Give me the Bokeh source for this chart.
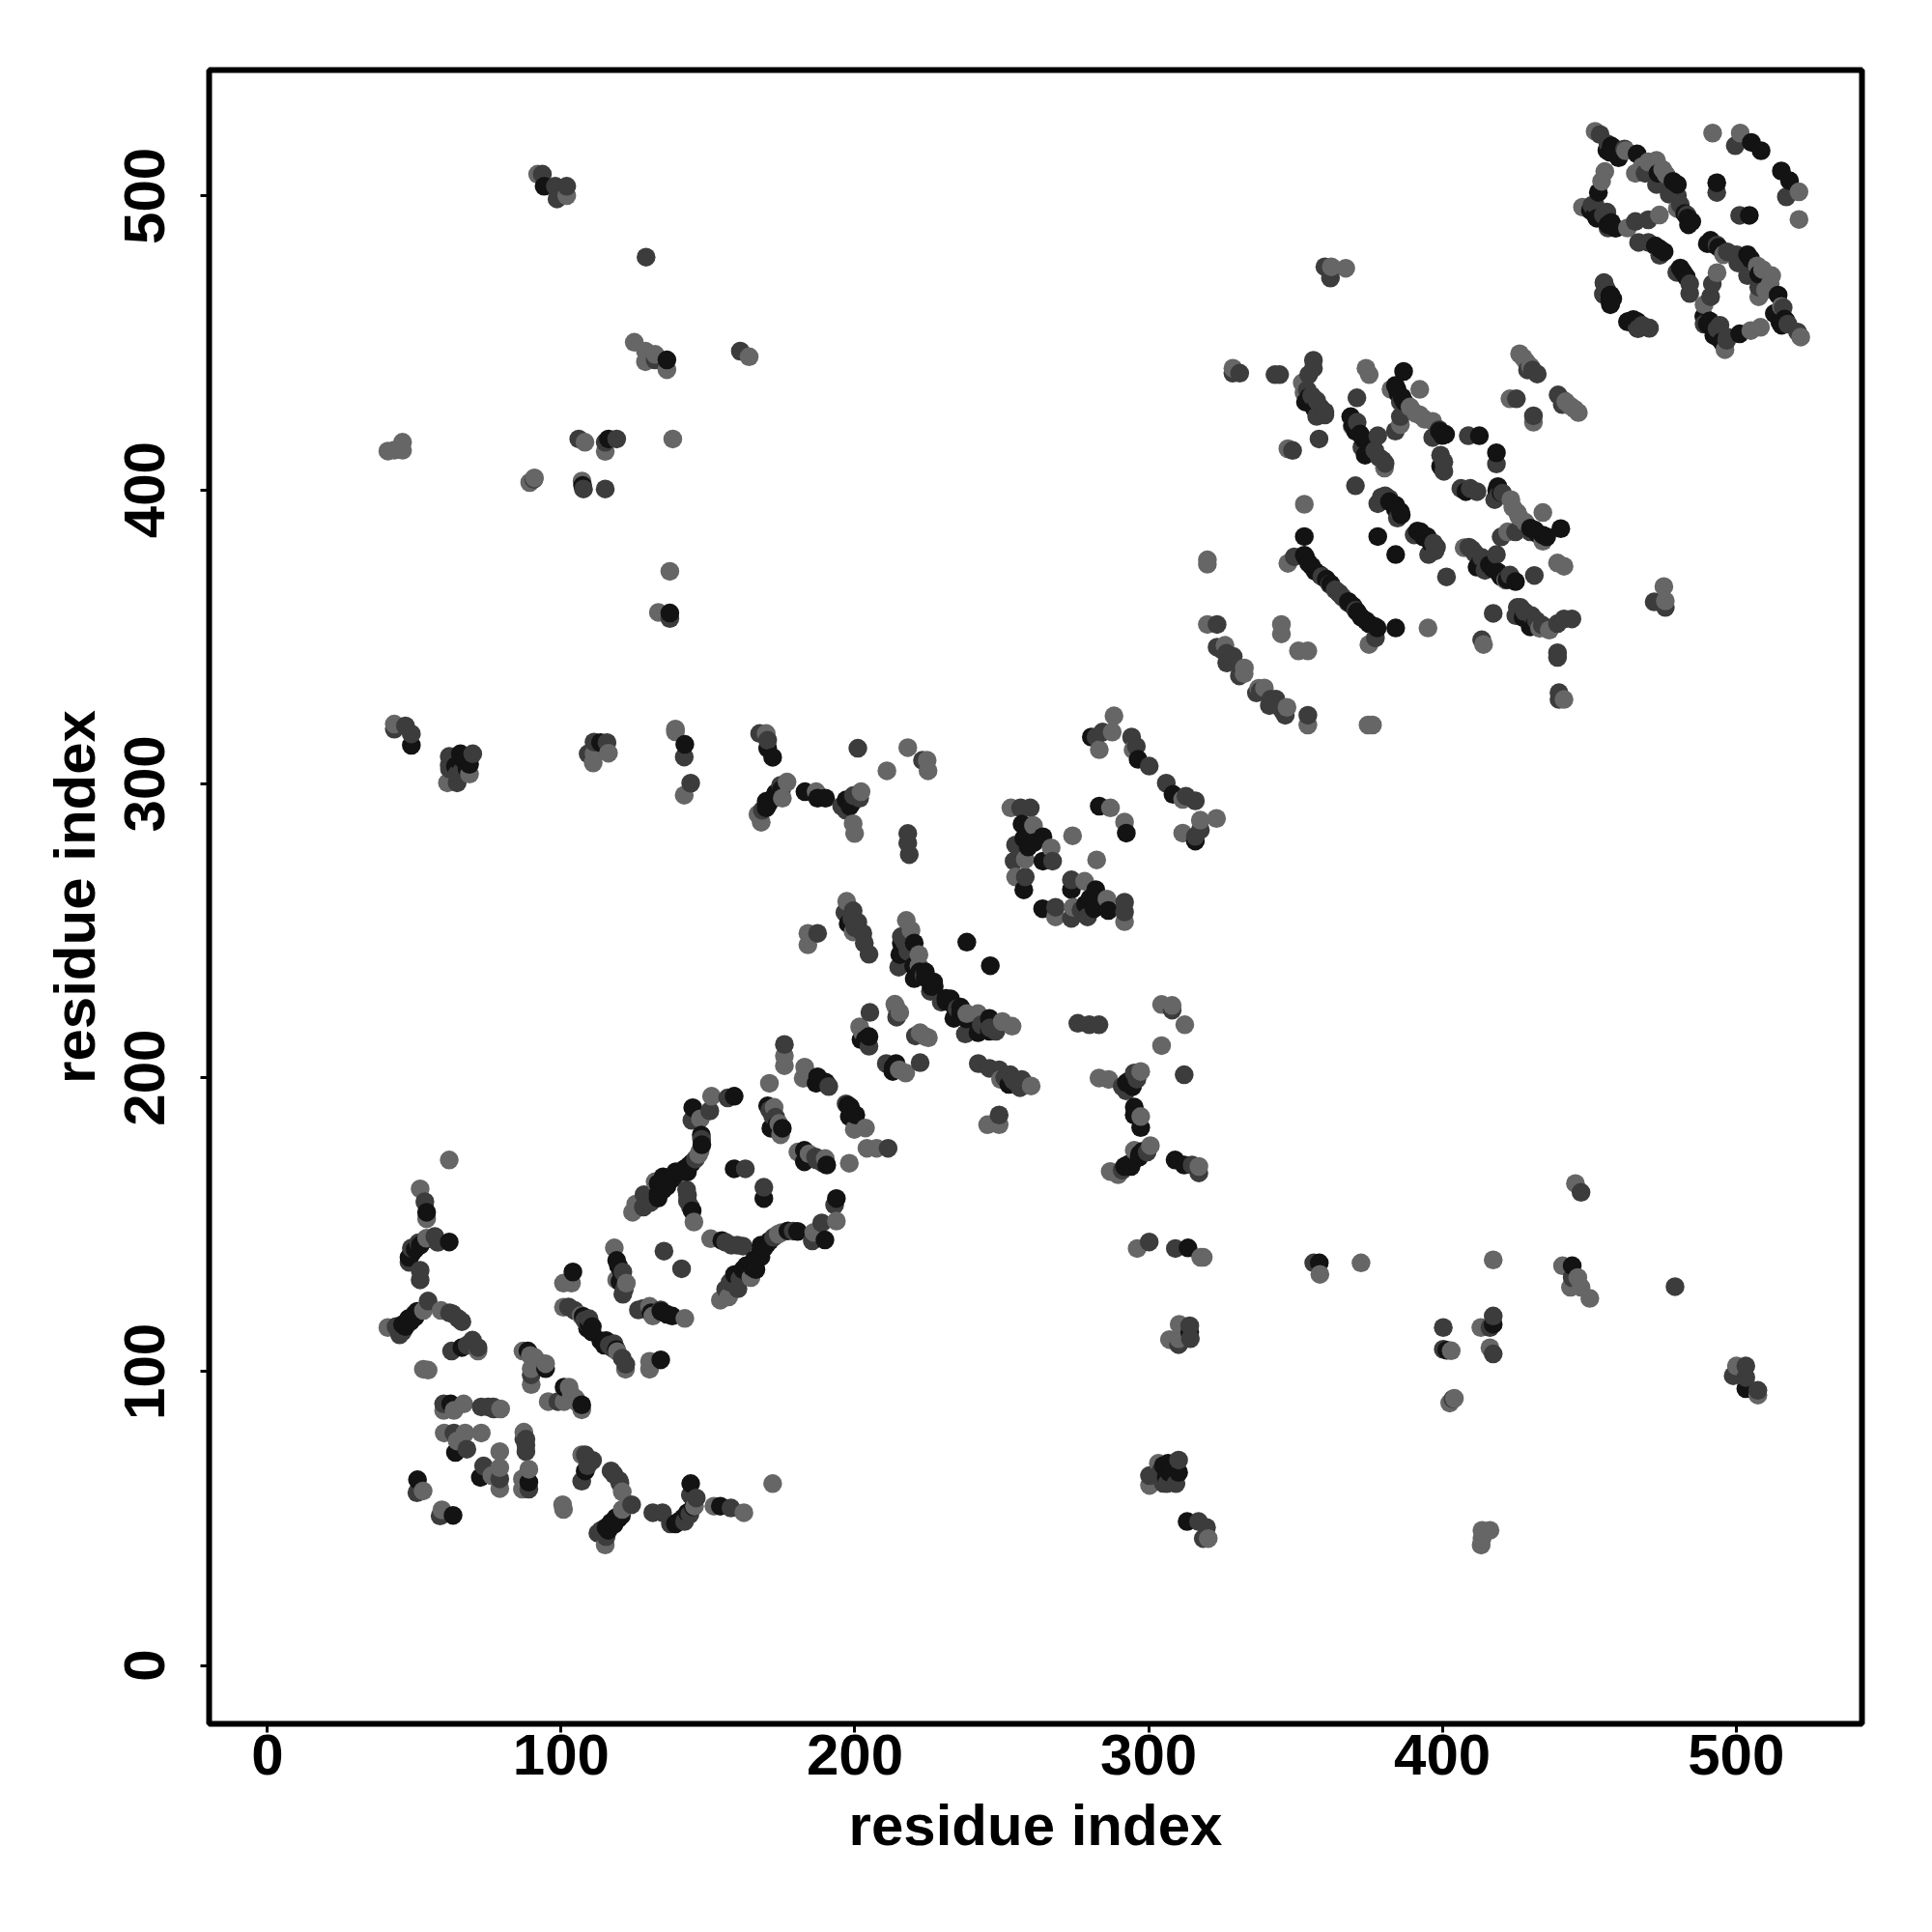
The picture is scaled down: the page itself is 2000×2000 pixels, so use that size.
import numpy as np
from bokeh.plotting import figure
from bokeh.models import ColumnDataSource, FixedTicker, Range1d
from bokeh.embed import file_html
from bokeh.resources import INLINE

tick_values = [0, 100, 200, 300, 400, 500]
axis_title = "residue index"

# residue contacts (i > j), the map is symmetric; grouped by drawn grey level
mid_contacts = [
 (172,61.9),(162.2,52),(152,54.2),(145.4,54.2),(120.8,53.1),(120.8,59.1),(115,41),(107,71.7),(100.5,54.7),(100.8,53.1),
 (104.9,90.9),(107,87),(102.7,94.7),(101,89.8),(95.6,89.8),(87.3,79.4),(89,66.8),(86.8,60),(86.8,63.5),(79.1,72.8),
 (79.1,67.3),(79.1,60.2),(76.4,64.6),(59.4,53),(121.9,100.8),(119.1,106.8),(130.1,103.5),(130.1,100.8),(142.1,118.1),
 (130.1,122.2),(131.2,118.9),(193.7,151.2),(186,147.4),(173.9,146.8),(164.6,132),(157,125.4),(154.2,124.3),(150.9,145.2),
 (198.1,170.9),(189.9,172.5),(180.6,174.7),(184.4,174.1),(207.4,176),(204.1,176),(203.6,182.9),(199.8,182.4),
 (217.3,201.6),(215.1,202.7),(225,213.6),(222.2,215.3),(238.1,221.8),(241.9,221.8),(250.2,219.1),(253.5,217.5),(249.6,199.4),
 (260,197.2),(245.2,184),(249.1,184),(297.3,202.1),(283.1,199.9),(286.4,199.4),(297.3,186.8),(300.6,176.9),(289.6,167),
 (286.9,168.1),(295.1,175.3),(317.1,169.8),(304.4,210.9),(312.3,218),(308,224.6),(304.4,224.9),(291.8,253.1),(285.8,260.8),
 (278.2,266.8),(274.3,258),(268.3,254.7),(282.3,274.1),(291.8,287),(311.6,294.7),(311.6,283.2),(317.6,287.6),(323.1,288.2),
 (296.1,141.9),(317.7,138.9),(318.6,138.9),(358.3,133.1),(372.3,137),(310.4,116.1),(307.1,110.9),(310.2,111.2),(300.3,61.3),
 (303.3,68.8),(320.3,43.2),(445.3,164),(417.3,138),(440.9,136),(446.1,132),(443.6,128.7),(447.2,128.7),(450.2,124.9),
 (413.1,115),(403,107.1),(416.2,108.1),(402.5,89.3),(404.1,90.9),(500.1,101.9),(507.4,92),(413.5,46),(416.2,46),(413.5,43.2),
 (413.2,41),(446.3,426.3),(443.6,428.5),(431,423),(434.2,392.3),(434.2,382.5),(428.2,389),(425.5,392.3),(422.2,385.7),
 (423.3,396.7),(421.6,369.3),(407.4,380.3),(439.2,375.1),(441.4,374),(433.1,352.9),(436.4,352.3),(414,347.4),(441.4,328.7),
 (395.1,353),(375,347.4),(354.2,345.2),(351,345.2),(354.2,320),(374.7,320),(376.2,320),(347.1,326),(339.4,332.6),
 (475.4,367.1),(475.9,362.2),(522,452),(515.4,462.4),(511.6,470.1),(512.1,472.9),(507.7,465.7),(507.2,476.2),(495.7,480),
 (508.3,455.3),(505,454.2),(496.2,447.7),(489.1,463),(493.5,473.9),(521.4,492),(521.4,501.4),
 (175,147.3),(224,214),(103.5,92),(105.5,89.5),(424,394),(426,391),(337.5,332.5),(445,427.5),(442,430),(510,468),(509,475),
]
dark_contacts = [
 (157.8,53.6),(146,57),(144,58),(143.8,51.4),(137.2,48.2),(134.5,52),(131.2,52),(124,54.7),(119.7,63),(117,66.2),(113.6,46),
 (115.3,43.8),(110.7,69.8),(108.2,71.7),(107,62.7),(98.9,89.8),(88,72.8),(87.3,77),(89,60),(79.1,63.5),(73.6,67.9),(58.8,50.9),
 (120.8,104.6),(116.4,109),(118,109.5),(133.9,121),(126.3,121),(141,135),(188.7,150.6),(193.1,156.7),(172.3,145.7),(160.8,131.5),
 (157.5,130.4),(160.2,128.2),(161.9,142.7),(158,143),(169,162.7),(185.5,144.5),(186.6,173),(211.3,176),(197,191.1),
 (222.2,205.1),(210.7,204.8),(220.6,214.2),(229.4,225.7),(234.8,223.5),(237.6,214.9),(248,215.8),(242,204.8),(245.8,203.2),
 (249.1,202.7),(252.9,201),(256.8,199.4),(256.2,196.6),(249.1,187.3),(312.1,201),(295.1,201.6),(292.4,195.5),(299.5,174.7),
 (317.1,167.6),(314.8,170.3),(308,223),(275.9,218.5),(279.8,218),(283.1,218),(291.8,259.7),(291.8,256.4),(279.2,254.7),
 (273.7,254.2),(273.7,267.3),(268.3,258),(306,300.2),(312.7,295.8),(315.9,294.2),(317.6,284.3),(315.9,282.1),
 (300.2,144.1),(309.1,141.9),(356.2,137),(314,115.6),(314.2,111.2),(310.2,109.2),(300.3,64.6),(306.2,61.9),(309.3,61.9),
 (310.2,69.9),(303.3,64.6),(317,49),(319.7,47),(318.6,43.2),(447.2,161),(444.2,132),(479.2,128.9),(400.3,115),(417.3,118.9),
 (416.2,115),(400.3,107.6),(417.3,106),(403.6,90.7),(503.3,101.9),(499,98.6),(503.3,98),(507.4,93.6),
 (440.8,430.7),(439.4,432.3),(440.8,429),(431,425.2),(429.9,385.7),(424.9,385.7),(420,384),(420.5,398.9),(417.8,396.7),
 (418.4,408.8),(411.8,399.4),(406.3,400.5),(414.5,372.6),(413.4,377),(410.1,379.7),(418.4,378),(431.3,370.9),(401.4,370.4),
 (417.3,358),(425.5,360),(426.6,360),(430.4,357.2),(425,357.2),(439.2,354.5),(444.1,356.1),(441.4,356.1),(413.4,349),
 (439.2,344.6),(439.2,343),(439.7,331),(439.7,328.7),(377.2,349.6),(367.9,361.6),(397.5,379.2),(395.3,378),(390.4,384.7),
 (397,381.9),(354.2,323.3),(346.5,323.3),(344.4,326.5),(341.6,328.8),(343.3,328.8),(341.1,326.6),(336.7,330.9),(472.1,361.9),
 (475.9,360),(520.9,453.7),(517.6,456.4),(507.7,469),(503.9,472.9),(500.1,480),(500.6,477.2),(493.5,483.3),(496.8,450.9),
 (493.5,454.8),(489.1,456.4),(491.3,465.7),(491.9,470.1),(484.2,466.8),(484.2,470.1),(479.8,474),(470.5,455),(466.6,454.8),
 (455.1,470.3),(455.1,466.3),(517.1,499.7),(501.2,493.4),
 (112.5,45),(114,45),(142,49),(109,68),(118,65),(120,62),(156,128),(179,147.8),(156,144),(160,143),(291,168.5),(296,199.5),(291,197),
 (243,218),(246,217),(248,217),(277,257),(254,199),(251,200),(305,62),(304,66),(370.5,359),(366,363.5),(365,364.7),(398,380.5),
 (409,380.5),(411,378.5),(423,371),(419,398),(428,358.5),(432,355.5),(434,354),(342.5,328),(345.5,325),(338,331.5),(497,481),(503,478),
 (516,462),(497,452),(494.5,456),(456,468),(88,77),(88,75),(122,102.5),(117.5,108),(128,121.5),(187,172),(189,171),(409.5,400.5),
]
black_contacts = [
 (154.2,54.2),(144.1,61.9),(141.6,50.3),(138.9,48.2),(118.6,50.3),(117,48.7),(115.3,47),(108.2,66.2),(107,88.7),(101,94.7),
 (89,62.4),(72.5,64),(63.2,51.1),(115.3,110.6),(114.7,109),(137.8,118.9),(130.6,120),(133.9,104),
 (189.8,144.8),(193.7,158.9),(180.5,147.7),(177.2,147.9),(170.1,143.5),(167.9,140.8),(165.7,138),(166.3,134.7),(161.9,134.7),
 (164,133),(168,143),(154.7,144.6),(169,158.9),(190.4,170.3),(182.8,175.3),(182.8,171.4),(198.1,186.8),(200.3,187.3),(197.6,190.6),
 (214,204.8),(212.9,202.1),(232.6,226.8),(231,227),(236,224),(233.7,220.2),(245.8,220.2),(245.8,215.8),(241.9,215.3),(252.4,197.7),
 (246.1,238.1),(292.4,198.3),(295.1,190),(295.1,187.3),(297.3,183),(296.8,173),(294,169.8),(291.8,169.8),(309,172),(312.1,170.3),
 (286.3,256.9),(282,264),(281.4,257.5),(273.7,264),(263.9,257.5),(292.4,283.2),(308.3,296.4),(315.9,280.5),
 (313.4,142.1),(358.1,137),(314,113.4),(306.6,68.8),(310.2,65.7),(307.1,65.7),(313.1,49),(444.2,136),(417.3,116.1),(401.5,107.3),
 (503.3,94.2),(440.3,386.8),(434.2,384.6),(431.5,386.3),(418.9,401.1),(418.4,412.6),(408,399.4),(424.9,368.8),(420,370.4),
 (417.3,373.1),(411.8,373.7),(429.9,353.4),(384.1,353),(377.8,353),(375,354.5),(372.3,356.7),(369.6,360.5),(384.1,378),
 (392.6,385.7),(394.8,384.1),(516.5,458.1),(514.9,457),(514.3,466.3),(507.7,473.4),(503.9,480),(491.3,484.9),(490.2,483.8),
 (501.2,453.1),(490.2,456.4),(492.4,452.6),(495.1,450.4),(482,474),(466.1,457),(463,457.2),(457.3,463.5),(457.3,466.3),
 (518.2,505.2),(515.4,508.5),(504.5,493.4),
 (116,46),(118,48),(119.5,50),(120.5,51),(140,49),(143,52),(145,54),(163,136),(165,135.5),(160.5,133),(159,133),(168,139),(169,142),
 (171,144.5),(293,170.5),(295,172),(297,174),(298,175),(293.5,199),(294.5,197),(231,226),(234,224),(236,222),(238,220),(213,203.5),
 (280,261),(278.5,259),(305,68),(306,64),(308,67),(374,355.5),(371,358.5),(377,353.5),(368,362),(393.5,384),(391.5,386),(396,382),
 (416,374.5),(419,372),(422,369.5),(413,375.5),(418.5,400),(420,399),(430,387),(432.5,385),(435.5,384),(427.5,356.5),(431.5,354.5),
 (492.5,483.5),(494,482.5),(505,478.5),(513,460),(515.5,456),(517,457.5),(489,459),(491,457.5),(493.5,452),(481,475.5),(483,472.5),
 (458,465),(464.5,457),(113.5,110.5),(116,109.5),(118.8,107.5),(134,120.5),(136,119.5),(184,173.5),(199,188.5),(198.5,190),
]
greys = {"#666666": mid_contacts, "#3c3c3c": dark_contacts, "#131313": black_contacts}

xs, ys, cs = [], [], []
for colour, pairs in greys.items():
    for i, j in pairs:
        xs += [i, j]
        ys += [j, i]
        cs += [colour, colour]
xs, ys, cs = np.array(xs), np.array(ys), np.array(cs)
order = np.lexsort((ys, xs))
source = ColumnDataSource(dict(x=xs[order], y=ys[order], c=cs[order]))

p = figure(frame_width=1711, frame_height=1712, output_backend="svg", toolbar_location=None,
           x_range=Range1d(-19.84, 542.84), y_range=Range1d(-19.84, 542.84),
           min_border_left=216, min_border_right=57, min_border_top=72, min_border_bottom=200,
           background_fill_color="white", border_fill_color="white")
p.grid.visible = False
p.outline_line_color = "black"
p.outline_line_width = 6
p.scatter("x", "y", source=source, size=19.5, fill_color="c", line_color=None)

for ax in (p.xaxis[0], p.yaxis[0]):
    ax.ticker = FixedTicker(ticks=tick_values)
    ax.axis_label = axis_title
    ax.axis_line_color = None
    ax.minor_tick_line_color = None
    ax.major_tick_in = 0
    ax.major_tick_out = 9
    ax.major_tick_line_color = "black"
    ax.major_tick_line_width = 3
    ax.major_label_text_font = "Liberation Sans"
    ax.major_label_text_font_style = "bold"
    ax.major_label_text_font_size = "60px"
    ax.major_label_text_color = "black"
    ax.axis_label_text_font = "Liberation Sans"
    ax.axis_label_text_font_style = "bold"
    ax.axis_label_text_font_size = "60px"
    ax.axis_label_text_color = "black"
p.xaxis[0].major_label_standoff = 2
p.xaxis[0].axis_label_standoff = 16
p.yaxis[0].major_label_standoff = 37
p.yaxis[0].axis_label_standoff = 16
p.yaxis[0].major_label_orientation = "vertical"

open("out.html", "w").write(file_html(p, INLINE))
